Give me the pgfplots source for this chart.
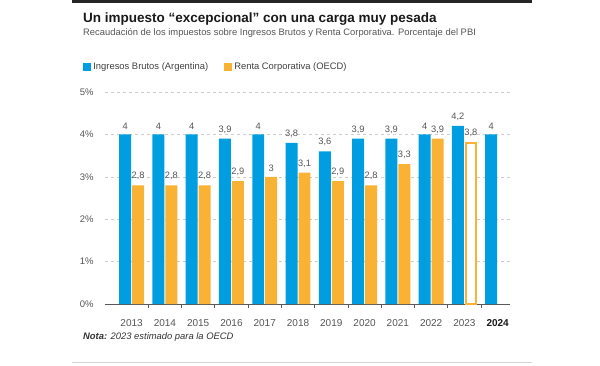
\documentclass[border=0pt]{standalone}
\usepackage{fontspec}
\setmainfont{Liberation Sans}
\usepackage{pgfplots}
\pgfplotsset{compat=1.18}
\definecolor{cblue}{HTML}{009EE0}
\definecolor{corange}{HTML}{F9B233}
\definecolor{tgray}{HTML}{555555}
\begin{document}
\begin{tikzpicture}
\path[use as bounding box] (0pt,0pt) rectangle (600pt,365pt);
\fill[black!85] (72pt,362pt) rectangle (532pt,365pt);
\draw[gray!35, line width=1pt] (72pt,3pt) -- (532pt,3pt);
\node[anchor=base west, inner sep=0pt, font=\fontsize{13.5}{15}\selectfont\bfseries, text=black!90] at (83pt,342pt) {Un impuesto “excepcional” con una carga muy pesada};
\node[anchor=base west, inner sep=0pt, font=\fontsize{9.4}{11}\selectfont, text=tgray] at (83pt,329pt) {Recaudación de los impuestos sobre Ingresos Brutos y Renta Corporativa. Porcentaje del PBI};
\node[anchor=base west, inner sep=0pt, font=\fontsize{9.4}{11}\selectfont, text=black!80] at (83pt,26pt) {\textbf{\textit{Nota:}} \textit{2023 estimado para la OECD}};
\begin{axis}[
  at={(105pt,61pt)}, anchor=south west,
  scale only axis, width=405pt, height=212pt,
  xmin=-0.8, xmax=11.37, ymin=0, ymax=5,
  clip=false,
  axis x line=bottom, axis y line=left,
  x axis line style={-, draw=gray!70!black, line width=0.8pt},
  y axis line style={draw=none},
  ytick={0,1,2,3,4,5},
  yticklabels={0\%,1\%,2\%,3\%,4\%,5\%},
  ytick style={draw=none},
  yticklabel style={font=\fontsize{9.5}{11}\selectfont, text=tgray, anchor=east, inner sep=0pt, xshift=-9pt},
  ymajorgrids,
  major grid style={gray!40, dash pattern=on 3pt off 3pt, line width=0.6pt},
  xtick={0,1,2,3,4,5,6,7,8,9,10,11},
  xticklabels={2013,2014,2015,2016,2017,2018,2019,2020,2021,2022,2023,\textbf{\color{black!90}2024}},
  xticklabel style={font=\fontsize{10}{12}\selectfont, text=tgray, anchor=north, inner sep=0pt, yshift=-11pt},
  major x tick style={draw=none},
  minor xtick={0.5,1.5,2.5,3.5,4.5,5.5,6.5,7.5,8.5,9.5,10.5},
  minor x tick style={draw=gray!70!black, line width=0.8pt},
  minor tick length=4pt,
  xtick align=inside,
  ybar, bar width=0.36,
  nodes near coords={\pgfmathprintnumber[assume math mode=true, use comma, fixed, precision=1]{\pgfplotspointmeta}},
  every node near coord/.append style={font=\fontsize{9.3}{11}\selectfont, text=tgray, anchor=south, inner sep=0pt, yshift=5pt},
  legend style={at={(axis description cs:-0.054,1.118)}, anchor=west, draw=none, fill=none, inner sep=0pt,
    font=\fontsize{9.4}{11}\selectfont, text=black!75, legend columns=2,
    /tikz/every even column/.append style={column sep=14pt}},
  legend cell align=left,
  legend image code/.code={\fill[#1] (0pt,-4pt) rectangle (8pt,4pt);},
]
\addplot[draw=none, fill=cblue, bar shift=-0.195] coordinates {
 (0,4) (1,4) (2,4) (3,3.9) (4,4) (5,3.8) (6,3.6) (7,3.9) (8,3.9) (9,4) (10,4.2) (11,4)};
\addlegendentry{Ingresos Brutos (Argentina)}
\addplot[draw=none, fill=corange, bar shift=0.195] coordinates {
 (0,2.8) (1,2.8) (2,2.8) (3,2.9) (4,3) (5,3.1) (6,2.9) (7,2.8) (8,3.3) (9,3.9)};
\addlegendentry{Renta Corporativa (OECD)}
\addplot[draw=corange, fill=white, line width=1.8pt, bar shift=0.195, bar width=0.31, forget plot] coordinates {(10,3.8)};
\end{axis}
\end{tikzpicture}
\end{document}
